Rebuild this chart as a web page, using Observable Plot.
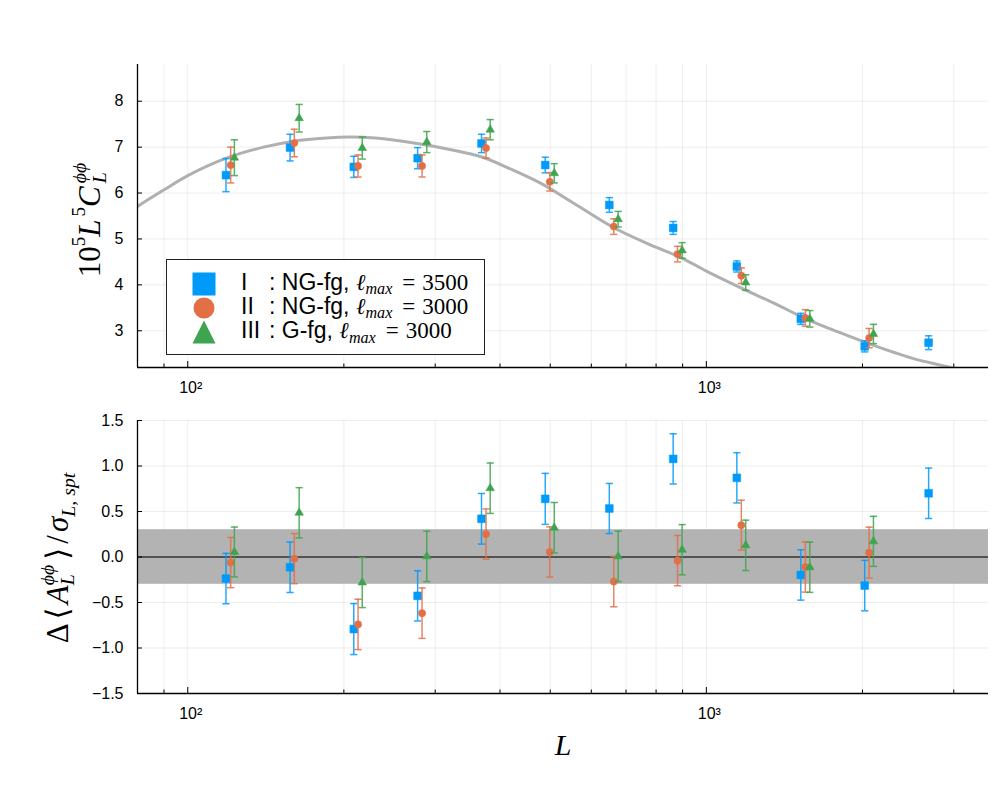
<!DOCTYPE html>
<html>
<head>
<meta charset="utf-8">
<script src="https://cdn.jsdelivr.net/npm/d3@7"></script>
<script src="https://cdn.jsdelivr.net/npm/@observablehq/plot@0.6"></script>
<style>
  html, body { margin: 0; padding: 0; background: #fff; }
  #wrap { position: relative; width: 1000px; height: 800px; overflow: hidden; }
  #top, #bot { position: absolute; left: 0; line-height: 0; }
  #top { top: 0; }
  #bot { top: 400px; }
  #top svg, #bot svg { display: block; }
  .math { font-family: "Liberation Serif", "DejaVu Serif", serif; }
  .ylab { position: absolute; white-space: nowrap; transform: translate(-50%, -50%) rotate(-90deg); font-size: 31px; color: #000; line-height: 1; }
  .ss { display: inline-flex; flex-direction: column; font-size: 0.64em; line-height: 1; vertical-align: 0.72em; }
  .sp { font-size: 0.62em; vertical-align: 0.8em; line-height: 0; }
  .sb { font-size: 0.64em; vertical-align: -0.35em; line-height: 0; }
  .g { margin-right: 3px; }
  #legend { position: absolute; left: 166px; top: 259px; width: 319px; height: 96px; border: 1px solid #222; background: #fff; box-sizing: border-box; }
  .lrow { position: absolute; left: 74px; font-family: "Liberation Sans", Arial, sans-serif; font-size: 23px; white-space: pre; line-height: 1; }
  .lrow .rn { display: inline-block; width: 28px; }
  .lrow .m { font-family: "Liberation Serif", serif; }
  .lrow .sub { font-family: "Liberation Serif", serif; font-style: italic; font-size: 0.7em; position: relative; top: 0.28em; }
  .lrow .eq { margin: 0 7px 0 10px; }
  .lsym { position: absolute; }
  #xlab { position: absolute; left: 563px; top: 745px; transform: translate(-50%, -50%); font-size: 30px; font-style: italic; line-height: 1; }
</style>
</head>
<body>
<div id="wrap">
  <div id="top"></div>
  <div id="bot"></div>
  <div class="ylab math" style="left:90px; top:220px;">10<span class="sp">5</span><i class="g">L</i><span class="sp">5</span><i class="g">C</i><span class="ss"><i>ϕϕ</i><i>L</i></span></div>
  <div class="ylab math" style="left:58px; top:558px;">Δ<span style="margin:0 3px 0 4px">⟨</span><i>A</i><span class="ss" style="margin-right:2px"><i>ϕϕ</i><i>L</i></span><span style="margin:0 3px">⟩</span><span style="margin:0 3px 0 1px">/</span><i>σ</i><span class="sb"><i>L, spt</i></span></div>
  <div id="xlab" class="math">L</div>
  <div id="legend"></div>
</div>
<script>
// ---------------- data ----------------
const seriesNames = ["I", "II", "III"];
const seriesColors = ["#009AFA", "#E36F47", "#3EA44E"];

// multipole bin positions (each series slightly offset in L)
const L_I   = [118.5, 157.5, 209, 277.5, 368.5, 489, 650, 863, 1145, 1521, 2020, 2683];
const L_II  = [121, 160.5, 213, 283, 376, 499, 663, 880, 1168, 1552, 2060];
const L_III = [123, 164, 217, 289, 383, 509, 676, 898, 1191, 1583, 2100];

// top panel: 10^5 L^5 C_L^{phiphi}
const top_I       = [6.39, 6.99, 6.57, 6.76, 7.08, 6.61, 5.74, 5.24, 4.40, 3.26, 2.66, 2.74];
const top_I_err   = [0.36, 0.29, 0.23, 0.23, 0.20, 0.17, 0.16, 0.14, 0.12, 0.12, 0.12, 0.15];
const top_II      = [6.61, 7.09, 6.59, 6.59, 6.98, 6.245, 5.27, 4.67, 4.20, 3.28, 2.84];
const top_II_err  = [0.39, 0.30, 0.24, 0.24, 0.22, 0.20, 0.17, 0.17, 0.17, 0.18, 0.21];
const top_III     = [6.77, 7.63, 6.98, 7.11, 7.38, 6.43, 5.43, 4.75, 4.05, 3.26, 2.93];
const top_III_err = [0.39, 0.30, 0.24, 0.23, 0.22, 0.21, 0.17, 0.17, 0.17, 0.18, 0.21];

// theory curve
const theoryL = [80, 90, 100, 118, 140, 160, 185, 205, 230, 277, 320, 368, 420, 478, 560, 662, 770, 891, 1000, 1163, 1350, 1564, 1800, 2069, 2500, 2957, 3500];
const theoryV = [5.71, 6.07, 6.38, 6.75, 7.0, 7.13, 7.2, 7.22, 7.2, 7.08, 6.95, 6.79, 6.52, 6.22, 5.75, 5.25, 4.9, 4.6, 4.3, 3.94, 3.6, 3.25, 2.97, 2.71, 2.4, 2.2, 1.97];

// bottom panel: Delta<A_L> / sigma
const bot_I       = [-0.237, -0.113, -0.792, -0.427, 0.42, 0.639, 0.533, 1.078, 0.87, -0.197, -0.314, 0.70];
const bot_I_err   = [0.277, 0.277, 0.28, 0.276, 0.278, 0.28, 0.275, 0.276, 0.276, 0.277, 0.277, 0.277];
const bot_II      = [-0.061, -0.018, -0.741, -0.617, 0.252, 0.055, -0.27, -0.04, 0.35, -0.11, 0.048];
const bot_II_err  = [0.276, 0.275, 0.277, 0.277, 0.276, 0.276, 0.277, 0.276, 0.274, 0.276, 0.28];
const bot_III     = [0.055, 0.486, -0.281, 0.007, 0.756, 0.322, 0.007, 0.08, 0.128, -0.113, 0.172];
const bot_III_err = [0.274, 0.276, 0.275, 0.277, 0.277, 0.277, 0.277, 0.276, 0.277, 0.276, 0.275];

const bandLo = -0.3, bandHi = 0.3;

// axes
const xDomain = [80, 3500];
const xMajor = [100, 1000];
const xMajorLabels = ["10²", "10³"];
const xMinor = [90, 200, 300, 400, 500, 600, 700, 800, 900, 2000, 3000];
const topYDomain = [2.2, 8.8];
const topYTicks = [3, 4, 5, 6, 7, 8];
const topYLabels = ["3", "4", "5", "6", "7", "8"];
const botYDomain = [-1.5, 1.5];
const botYTicks = [-1.5, -1.0, -0.5, 0.0, 0.5, 1.0, 1.5];
const botYLabels = ["−1.5", "−1.0", "−0.5", "0.0", "0.5", "1.0", "1.5"];

// ---------------- helpers ----------------
const capSymbol = {
  draw(ctx, size) {
    const r = Math.sqrt(size / Math.PI);
    ctx.moveTo(-r, 0);
    ctx.lineTo(r, 0);
  }
};
const symbols = ["square", "circle", "triangle"];
const symR = [4.4, 3.6, 3.2];

function seriesMarks(xs, ys, es, k) {
  const color = seriesColors[k];
  const d = xs.map((x, i) => ({x, y: ys[i], lo: ys[i] - es[i], hi: ys[i] + es[i]}));
  return [
    Plot.ruleX(d, {x: "x", y1: "lo", y2: "hi", stroke: color, strokeWidth: 1.5, strokeOpacity: 0.85}),
    Plot.dot(d, {x: "x", y: "lo", symbol: capSymbol, r: 3.6, stroke: color, fill: "none", strokeWidth: 1.5, strokeOpacity: 0.85}),
    Plot.dot(d, {x: "x", y: "hi", symbol: capSymbol, r: 3.6, stroke: color, fill: "none", strokeWidth: 1.5, strokeOpacity: 0.85}),
    Plot.dot(d, {x: "x", y: "y", symbol: symbols[k], r: symR[k], fill: color, stroke: color, strokeWidth: 0.5})
  ];
}

function gridMarks(yTicks) {
  return [
    Plot.gridX([...xMajor, ...xMinor], {stroke: "#000", strokeOpacity: 0.07, strokeWidth: 1}),
    Plot.gridY(yTicks, {stroke: "#000", strokeOpacity: 0.07, strokeWidth: 1}),
  ];
}
function axesFront(yDomain, yTicks, yLabels) {
  return [
    Plot.ruleX([xDomain[0]], {stroke: "#000", strokeWidth: 1.3}),
    Plot.ruleY([yDomain[0]], {stroke: "#000", strokeWidth: 1.3}),
    Plot.axisX(xMinor, {tickSize: -3.5, tickFormat: () => "", label: null, strokeWidth: 1}),
    Plot.axisX(xMajor, {tickSize: -6, tickPadding: 0, label: null, strokeWidth: 1, tickFormat: () => ""}),
    Plot.axisX(xMajor, {tickSize: 0, tickPadding: 14, label: null, fontSize: 16, fill: "#000", dx: 3,
      tickFormat: (d) => xMajorLabels[xMajor.indexOf(d)]}),
    Plot.axisY(yTicks, {tickSize: -5, tickFormat: () => "", label: null, strokeWidth: 1}),
    Plot.axisY(yTicks, {tickSize: 0, tickPadding: 14, label: null, fontSize: 16, fill: "#000",
      tickFormat: (d) => yLabels[yTicks.indexOf(d)]})
  ];
}

const style = {fontFamily: "Liberation Sans, Arial, sans-serif", fontSize: "16px", background: "transparent", color: "#000", overflow: "visible"};

// ---------------- top panel ----------------
const theory = theoryL.map((L, i) => ({L, v: theoryV[i]}));
const topPlot = Plot.plot({
  width: 1000, height: 400,
  marginLeft: 137, marginRight: 12, marginTop: 64, marginBottom: 33,
  x: {type: "log", domain: xDomain},
  y: {domain: topYDomain},
  style,
  marks: [
    ...gridMarks(topYTicks),
    Plot.line(theory, {x: "L", y: "v", stroke: "#b0b0b0", strokeWidth: 3, curve: "catmull-rom", clip: true}),
    ...seriesMarks(L_I, top_I, top_I_err, 0),
    ...seriesMarks(L_II, top_II, top_II_err, 1),
    ...seriesMarks(L_III, top_III, top_III_err, 2),
    ...axesFront(topYDomain, topYTicks, topYLabels)
  ]
});
document.getElementById("top").appendChild(topPlot);

// ---------------- bottom panel ----------------
const botPlot = Plot.plot({
  width: 1000, height: 400,
  marginLeft: 137, marginRight: 12, marginTop: 20, marginBottom: 107,
  x: {type: "log", domain: xDomain},
  y: {domain: botYDomain},
  style,
  marks: [
    ...gridMarks(botYTicks),
    Plot.rectY([{lo: bandLo, hi: bandHi}], {y1: "lo", y2: "hi", fill: "#b3b3b3"}),
    Plot.ruleY([0], {stroke: "#333", strokeWidth: 1.6}),
    ...seriesMarks(L_I, bot_I, bot_I_err, 0),
    ...seriesMarks(L_II, bot_II, bot_II_err, 1),
    ...seriesMarks(L_III, bot_III, bot_III_err, 2),
    ...axesFront(botYDomain, botYTicks, botYLabels)
  ]
});
document.getElementById("bot").appendChild(botPlot);

// ---------------- legend ----------------
const legendRest = [
  {lab: "NG-fg, ", lmax: "3500"},
  {lab: "NG-fg, ", lmax: "3000"},
  {lab: "G-fg, ", lmax: "3000"}
];
const legend = document.getElementById("legend");
const symSvgs = [
  (c) => `<svg width="24" height="24"><rect x="0.5" y="0.5" width="23" height="23" fill="${c}"/></svg>`,
  (c) => `<svg width="24" height="24"><circle cx="12" cy="12" r="10.5" fill="${c}"/></svg>`,
  (c) => `<svg width="24" height="24"><path d="M12,0.5 L23.5,23.5 L0.5,23.5 Z" fill="${c}"/></svg>`
];
const rowCenters = [23.5, 47.5, 72];
seriesNames.forEach((nm, k) => {
  const s = document.createElement("div");
  s.className = "lsym";
  s.style.left = (37 - 12) + "px";
  s.style.top = (rowCenters[k] - 12) + "px";
  s.innerHTML = symSvgs[k](seriesColors[k]);
  legend.appendChild(s);
  const r = document.createElement("div");
  r.className = "lrow";
  r.style.top = (rowCenters[k] - 13) + "px";
  r.innerHTML = `<span class="rn">${nm}</span>: ${legendRest[k].lab}<span class="m"><i>ℓ</i><span class="sub">max</span><span class="eq">=</span>${legendRest[k].lmax}</span>`;
  legend.appendChild(r);
});
</script>
</body>
</html>
